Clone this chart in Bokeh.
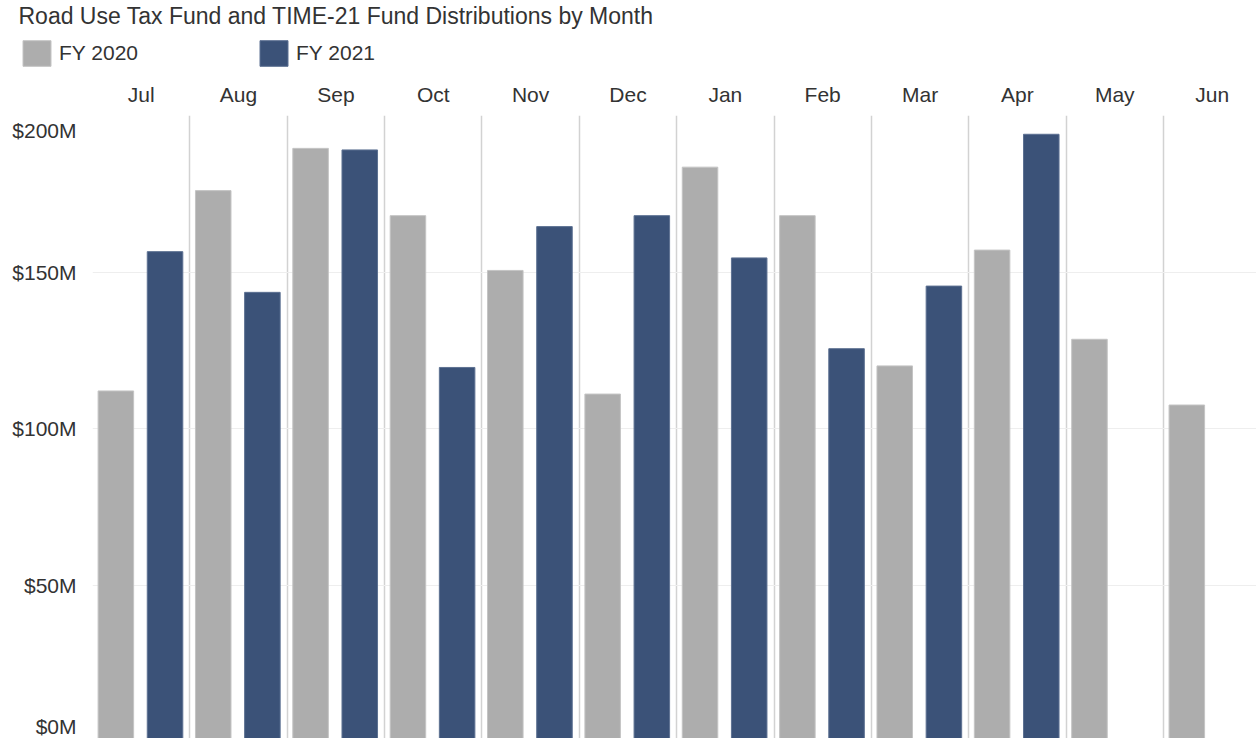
from bokeh.plotting import figure
from bokeh.layouts import column
from bokeh.models import (Range1d, FixedTicker, Legend, LegendItem,
                          CustomJSTickFormatter, ColumnDataSource)
from bokeh.embed import file_html
from bokeh.resources import INLINE

# ---------------- data ----------------
months = ["Jul", "Aug", "Sep", "Oct", "Nov", "Dec",
          "Jan", "Feb", "Mar", "Apr", "May", "Jun"]
fy2020 = [112.0, 176.0, 189.5, 168.0, 150.5, 111.0,
          183.5, 168.0, 120.0, 157.0, 128.5, 107.5]
fy2021 = [156.5, 143.5, 189.0, 119.5, 164.5, 168.0,
          154.5, 125.5, 145.5, 194.0]
y_ticks = [0, 50, 100, 150, 200]
y_tick_labels = ["$0M", "$50M", "$100M", "$150M", "$200M"]
series_names = ["FY 2020", "FY 2021"]
title_text = "Road Use Tax Fund and TIME-21 Fund Distributions by Month"

# ---------------- style ----------------
FONT = "Liberation Sans"
TEXT = "#333333"
GRAY = "#adadad"
BLUE = "#3b5278"
GRAY_EDGE = "#c4c4c4"
BLUE_EDGE = "#5d7192"
W = 1256
HEAD_H = 75
MAIN_H = 663
FRAME_TOP = 40
BORDER_LEFT = 92
PX_PER_M = 3.13
PANE_PX = 97.36

src20 = ColumnDataSource(dict(x=[i + 0.24 for i in range(len(fy2020))], top=fy2020))
src21 = ColumnDataSource(dict(x=[i + 0.745 for i in range(len(fy2021))], top=fy2021))

# ---------------- header: title + legend ----------------
# the header's ranges lie away from the data, so only its legend shows
head = figure(width=W, height=HEAD_H, output_backend="svg", toolbar_location=None,
              x_range=Range1d(-3, -2), y_range=Range1d(-3, -2),
              min_border_left=0, min_border_right=0, min_border_top=0,
              min_border_bottom=0)
head.frame_align = False
head.axis.visible = False
head.grid.visible = False
head.outline_line_color = None
head.title.text = title_text
head.title.text_font = FONT
head.title.text_font_size = "23px"
head.title.text_font_style = "normal"
head.title.text_color = TEXT
head.title.align = "left"
head.title.offset = 18
head.title.standoff = 0

h20 = head.vbar(x="x", top="top", bottom=0, width=0.365, source=src20,
                fill_color=GRAY, line_color=GRAY_EDGE)
h21 = head.vbar(x="x", top="top", bottom=0, width=0.365, source=src21,
                fill_color=BLUE, line_color=BLUE_EDGE)
legend = Legend(items=[LegendItem(label=series_names[0], renderers=[h20]),
                       LegendItem(label=series_names[1], renderers=[h21])],
                orientation="horizontal", location=(19, 6),
                glyph_width=35, glyph_height=32, label_standoff=5,
                label_width=197, spacing=0, padding=0, margin=0,
                label_text_font=FONT, label_text_font_size="21px",
                label_text_color=TEXT, border_line_color=None,
                background_fill_alpha=0)
head.add_layout(legend, "center")

# ---------------- main chart ----------------
frame_h = MAIN_H - FRAME_TOP
frame_w = W - BORDER_LEFT
y_end = 200
y_start = y_end - frame_h / PX_PER_M
x_end = frame_w / PANE_PX

p = figure(width=W, height=MAIN_H, output_backend="svg", toolbar_location=None,
           x_range=Range1d(0, x_end), y_range=Range1d(y_start, y_end),
           x_axis_location="above", y_axis_location="left",
           min_border_left=BORDER_LEFT, min_border_right=0,
           min_border_top=FRAME_TOP, min_border_bottom=0)
p.frame_align = False
p.outline_line_color = None

p.vbar(x="x", top="top", bottom=0, width=0.365, source=src20,
       fill_color=GRAY, line_color=GRAY_EDGE, line_width=1)
p.vbar(x="x", top="top", bottom=0, width=0.365, source=src21,
       fill_color=BLUE, line_color=BLUE_EDGE, line_width=1)

p.xgrid.ticker = FixedTicker(ticks=list(range(len(months) + 1)))
p.xgrid.grid_line_color = "#d2d2d2"
p.xgrid.grid_line_width = 1.5
p.ygrid.ticker = FixedTicker(ticks=y_ticks)
p.ygrid.grid_line_color = "#eeeeee"
p.ygrid.grid_line_width = 1

xa = p.xaxis[0]
xa.ticker = FixedTicker(ticks=[i + 0.5 for i in range(len(months))])
xa.major_label_overrides = {i + 0.5: m for i, m in enumerate(months)}
xa.axis_line_color = None
xa.major_tick_line_color = None
xa.minor_tick_line_color = None
xa.major_label_text_font = FONT
xa.major_label_text_font_size = "21px"
xa.major_label_text_color = TEXT
xa.major_label_standoff = 4

nudge = 15 / PX_PER_M
tick_pos = [t + (nudge if t == min(y_ticks) else -nudge if t == max(y_ticks) else 0)
            for t in y_ticks]
ya = p.yaxis[0]
ya.ticker = FixedTicker(ticks=tick_pos)
ya.formatter = CustomJSTickFormatter(args=dict(labels=y_tick_labels),
                                     code="return labels[index];")
ya.axis_line_color = None
ya.major_tick_line_color = None
ya.minor_tick_line_color = None
ya.major_label_text_font = FONT
ya.major_label_text_font_size = "21px"
ya.major_label_text_color = TEXT
ya.major_label_standoff = 10

layout = column(head, p, spacing=0)
open("out.html", "w").write(file_html(layout, INLINE))
